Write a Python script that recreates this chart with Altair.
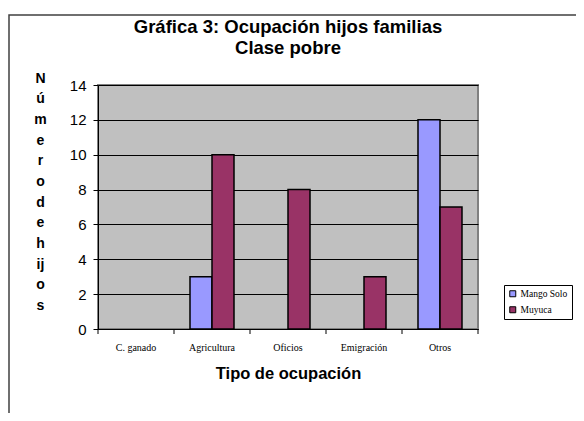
import altair as alt
import pandas as pd

categories = ["C. ganado", "Agricultura", "Oficios", "Emigración", "Otros"]
series = ["Mango Solo", "Muyuca"]
mango_solo = [0, 3, 0, 0, 12]
muyuca = [0, 10, 8, 3, 7]
y_ticks = [0, 2, 4, 6, 8, 10, 12, 14]
colors = ["#9999FF", "#993366"]
y_title = ["N", "ú", "m", "e", "r", "o", "d", "e", "h", "ij", "o", "s"]
title_lines = ["Gráfica 3: Ocupación hijos familias", "Clase pobre"]

rows = []
for c, m, u in zip(categories, mango_solo, muyuca):
    rows.append({"cat": c, "series": series[0], "value": m})
    rows.append({"cat": c, "series": series[1], "value": u})
df = pd.DataFrame(rows)
cat_df = pd.DataFrame({"cat": categories})
one = pd.DataFrame({"a": [0]})

W, H = 380, 244
SANS = "Liberation Sans"
SERIF = "Liberation Serif"

xscale = alt.Scale(domain=categories, paddingInner=0, paddingOuter=0)

frame = alt.Chart(one).mark_rect(fill="transparent", stroke="#404040", strokeWidth=1.5).encode(
    x=alt.value(-89), x2=alt.value(700), y=alt.value(-70), y2=alt.value(600)
)

titles = [
    alt.Chart(one).mark_text(font=SANS, fontSize=18.5, fontWeight="bold", color="black",
                             align="center", baseline="alphabetic").encode(
        x=alt.value(W / 2), y=alt.value(yy), text=alt.value(t))
    for t, yy in zip(title_lines, [-52, -31])
]

bars = alt.Chart(df).transform_filter("datum.value > 0").mark_bar(
    stroke="black", strokeWidth=1.5
).encode(
    x=alt.X("cat:N", sort=categories, scale=xscale,
            axis=alt.Axis(title="Tipo de ocupación", labelAngle=0, ticks=False, grid=False,
                          domainColor="black", domainWidth=1,
                          labelFont=SERIF, labelFontSize=10, labelColor="black", labelPadding=13,
                          titleFont=SANS, titleFontSize=16.5, titleFontWeight="bold",
                          titleColor="black", titlePadding=13)),
    xOffset=alt.XOffset("series:N", scale=alt.Scale(domain=series, paddingOuter=0.727, paddingInner=0)),
    y=alt.Y("value:Q", scale=alt.Scale(domain=[0, 14], nice=False),
            axis=alt.Axis(values=y_ticks, title=y_title, grid=True, gridColor="black", gridWidth=1,
                          domainColor="black", domainWidth=1, tickColor="black", tickSize=5,
                          labelFont=SANS, labelFontSize=15, labelColor="black", labelPadding=7,
                          titleFont=SANS, titleFontSize=14, titleFontWeight="bold", titleColor="black",
                          titleAngle=0, titleAlign="center", titleBaseline="top",
                          titleX=-58, titleY=-14, titleLineHeight=20.7)),
    color=alt.Color("series:N", scale=alt.Scale(domain=series, range=colors),
                    legend=alt.Legend(title=None, orient="none", legendX=406, legendY=200,
                                      strokeColor="black", fillColor="white", padding=4,
                                      labelFont=SERIF, labelFontSize=9.5, labelColor="black",
                                      labelOffset=3,
                                      symbolType="square", symbolSize=36, symbolStrokeColor="black",
                                      symbolStrokeWidth=1, symbolOpacity=1, rowPadding=5)),
)

ticks = alt.Chart(cat_df).mark_rule(color="black", strokeWidth=1).encode(
    x=alt.X("cat:N", sort=categories, scale=xscale, bandPosition=0),
    y=alt.value(H), y2=alt.value(H + 5)
)
end_tick = alt.Chart(one).mark_rule(color="black", strokeWidth=1).encode(
    x=alt.value(W), y=alt.value(H), y2=alt.value(H + 5)
)

chart = alt.layer(frame, *titles, bars, ticks, end_tick).properties(
    width=W, height=H,
    autosize=alt.AutoSizeParams(type="none"),
    padding={"left": 90, "top": 77, "right": 98, "bottom": 84},
    background="white",
).configure_view(
    fill="#C0C0C0", stroke="#808080", strokeWidth=2
)

chart.save("out.html", embed_options={"renderer": "svg", "actions": False})
